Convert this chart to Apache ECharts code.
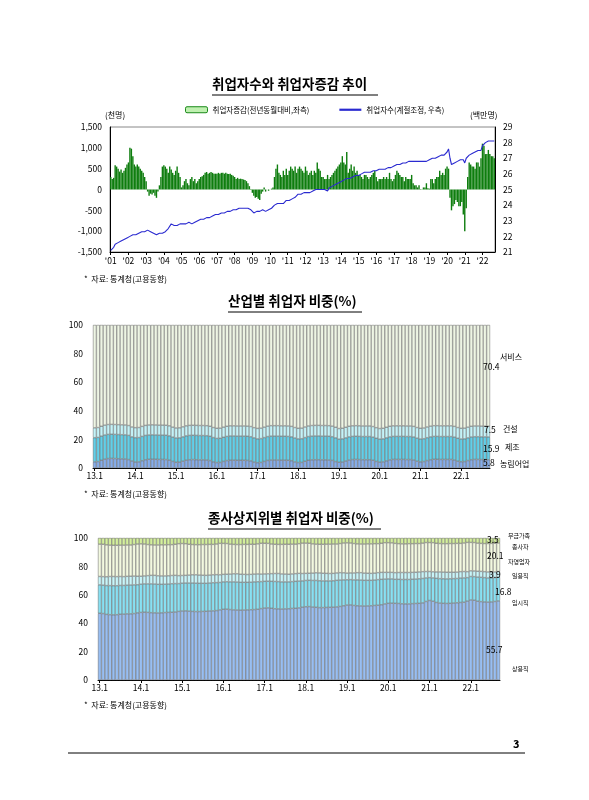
<!DOCTYPE html>
<html><head><meta charset="utf-8">
<script src="https://cdn.jsdelivr.net/npm/echarts@6/dist/echarts.min.js"></script>
<style>html,body{margin:0;padding:0;background:#fff}#c{width:589px;height:800px}</style>
</head><body><div id="c"></div>
<script>
// ---- Chart 1: 2001.1 - 2022.9 monthly ----
const chg = [
 300,250,280,580,550,500,430,480,400,450,520,600,
 650,1000,980,800,600,550,600,550,500,450,400,300,
 200,-50,-150,-100,-120,-80,-150,-200,-50,100,300,550,
 580,550,500,400,550,480,400,350,450,550,400,300,
 50,100,200,250,150,100,250,300,200,250,150,200,
 250,300,320,350,400,420,380,400,420,400,380,380,
 380,400,380,400,400,380,400,380,370,380,350,330,
 300,250,280,250,260,250,240,230,200,150,80,10,
 -80,-150,-200,-180,-220,-250,-100,-50,50,-50,0,-30,
 0,20,50,300,500,600,400,350,300,450,350,500,
 350,450,550,500,450,550,400,500,550,500,450,400,
 550,450,350,400,450,350,450,400,650,500,450,300,
 300,250,250,350,250,300,350,400,450,500,550,600,
 650,800,650,600,900,400,500,600,450,550,400,450,
 350,350,300,250,350,350,300,250,300,350,400,450,
 300,200,250,250,250,300,250,300,250,400,250,200,
 250,350,450,400,350,300,300,200,300,250,250,250,
 350,150,100,100,50,100,10,5,50,50,150,30,
 20,250,250,150,250,300,300,450,350,400,350,500,
 550,500,-200,-500,-400,-350,-250,-300,-400,-400,-300,-600,
 -1000,-450,300,650,600,550,550,500,650,650,550,750,
 1100,1050,850,850,950,850,800,800,750];
const emp = [
 21.1,21.1,21.3,21.5,21.6,21.6,21.7,21.7,21.8,21.8,21.9,21.9,
 21.9,22.0,22.0,22.1,22.1,22.1,22.2,22.2,22.2,22.3,22.3,22.3,
 22.3,22.4,22.3,22.3,22.2,22.2,22.1,22.1,22.1,22.2,22.2,22.2,
 22.3,22.3,22.4,22.5,22.6,22.8,22.7,22.7,22.6,22.7,22.8,22.8,
 22.7,22.8,22.8,22.8,22.9,22.9,22.8,22.8,22.9,22.9,23.0,23.0,
 23.0,23.1,23.1,23.1,23.1,23.2,23.2,23.2,23.3,23.3,23.3,23.4,
 23.4,23.4,23.5,23.5,23.5,23.5,23.5,23.6,23.6,23.6,23.7,23.7,
 23.7,23.7,23.8,23.8,23.8,23.8,23.8,23.8,23.8,23.8,23.7,23.7,
 23.6,23.5,23.6,23.6,23.6,23.6,23.7,23.7,23.7,23.6,23.6,23.7,
 23.7,23.8,23.9,24.0,24.1,24.1,24.1,24.1,24.2,24.1,24.2,24.3,
 24.3,24.3,24.4,24.4,24.5,24.5,24.6,24.7,24.6,24.7,24.6,24.8,
 24.7,24.8,24.9,24.8,24.9,24.9,25.0,25.0,25.0,25.0,25.1,25.0,
 25.0,25.0,25.0,24.9,25.1,25.1,25.2,25.2,25.3,25.3,25.4,25.4,
 25.5,25.5,25.6,25.6,25.7,25.7,25.7,25.8,25.8,25.9,25.9,25.9,
 25.9,26.0,26.0,26.0,26.1,26.0,26.1,26.1,26.1,26.2,26.2,26.2,
 26.2,26.2,26.3,26.3,26.3,26.3,26.3,26.4,26.4,26.4,26.4,26.5,
 26.5,26.5,26.6,26.6,26.6,26.7,26.7,26.7,26.7,26.8,26.8,26.8,
 26.8,26.8,26.8,26.8,26.8,26.9,26.8,26.8,26.8,26.8,26.8,26.9,
 26.9,27.0,27.0,27.0,27.0,27.1,27.1,27.1,27.2,27.2,27.2,27.3,
 27.4,27.6,27.0,26.6,26.7,26.7,26.8,26.8,26.8,26.9,27.0,26.9,
 26.7,27.0,27.1,27.2,27.2,27.3,27.3,27.4,27.4,27.5,27.5,27.5,
 27.8,27.9,28.0,28.1,28.1,28.2,28.1,28.1,28.1];
const years1 = ["'01","'02","'03","'04","'05","'06","'07","'08","'09","'10","'11","'12","'13","'14","'15","'16","'17","'18","'19","'20","'21","'22"];

// ---- Chart 2: 2013.1 - 2022.9 (industry share, %) ----
const agri = [
 4.3,4.5,5.4,6.2,6.6,6.7,6.6,6.5,6.4,6.3,5.9,4.9,
 4.2,4.3,5.1,5.8,6.1,6.2,6.1,6.0,6.0,5.9,5.5,4.6,
 4.0,4.1,4.8,5.5,5.8,5.9,5.8,5.7,5.7,5.6,5.2,4.3,
 3.8,3.9,4.6,5.2,5.5,5.5,5.4,5.4,5.4,5.3,5.0,4.2,
 3.7,3.9,4.6,5.3,5.6,5.6,5.6,5.5,5.5,5.4,5.1,4.3,
 3.8,3.9,4.7,5.4,5.7,5.8,5.8,5.7,5.7,5.6,5.3,4.5,
 4.0,4.2,4.9,5.6,5.9,6.0,5.9,5.8,5.8,5.8,5.4,4.6,
 4.1,4.3,5.0,5.7,6.0,6.0,6.0,6.0,5.9,5.9,5.6,4.8,
 4.3,4.5,5.2,5.8,6.1,6.1,6.0,6.0,6.0,6.0,5.6,4.8,
 4.4,4.5,5.2,5.8,6.0,6.0,5.9,5.9,5.8];
const manu = [
 16.9,16.9,16.9,16.9,16.9,16.9,16.9,16.9,16.9,16.9,16.9,16.9,
 17.0,17.0,17.0,17.0,17.0,17.0,17.0,17.0,17.0,17.0,17.0,17.0,
 17.0,17.0,17.0,17.0,17.0,17.0,17.0,17.0,17.0,17.0,17.0,17.0,
 16.9,16.9,16.9,16.9,16.9,16.9,16.9,16.9,16.9,16.9,16.9,16.9,
 16.7,16.7,16.7,16.7,16.7,16.7,16.7,16.7,16.7,16.7,16.7,16.7,
 16.6,16.6,16.6,16.6,16.6,16.6,16.6,16.6,16.6,16.6,16.6,16.6,
 16.2,16.2,16.2,16.2,16.2,16.2,16.2,16.2,16.2,16.2,16.2,16.2,
 16.1,16.1,16.1,16.1,16.1,16.1,16.1,16.1,16.1,16.1,16.1,16.1,
 16.0,16.0,16.0,16.0,16.0,16.0,16.0,16.0,16.0,16.0,16.0,16.0,
 15.9,15.9,15.9,15.9,15.9,15.9,15.9,15.9,15.9];
const cons = [
 6.9,6.9,6.9,6.9,6.9,6.9,6.9,6.9,6.9,6.9,6.9,6.9,
 7.0,7.0,7.0,7.0,7.0,7.0,7.0,7.0,7.0,7.0,7.0,7.0,
 7.0,7.0,7.0,7.0,7.0,7.0,7.0,7.0,7.0,7.0,7.0,7.0,
 7.1,7.1,7.1,7.1,7.1,7.1,7.1,7.1,7.1,7.1,7.1,7.1,
 7.3,7.3,7.3,7.3,7.3,7.3,7.3,7.3,7.3,7.3,7.3,7.3,
 7.4,7.4,7.4,7.4,7.4,7.4,7.4,7.4,7.4,7.4,7.4,7.4,
 7.4,7.4,7.4,7.4,7.4,7.4,7.4,7.4,7.4,7.4,7.4,7.4,
 7.4,7.4,7.4,7.4,7.4,7.4,7.4,7.4,7.4,7.4,7.4,7.4,
 7.5,7.5,7.5,7.5,7.5,7.5,7.5,7.5,7.5,7.5,7.5,7.5,
 7.5,7.5,7.5,7.5,7.5,7.5,7.5,7.5,7.5];
const serv = [
 71.9,71.7,70.8,70.0,69.6,69.5,69.6,69.7,69.8,69.9,70.3,71.3,
 71.8,71.7,70.9,70.2,69.9,69.8,69.9,70.0,70.0,70.1,70.5,71.4,
 72.0,71.9,71.2,70.5,70.2,70.1,70.2,70.3,70.3,70.4,70.8,71.7,
 72.2,72.1,71.4,70.8,70.5,70.5,70.6,70.6,70.6,70.7,71.0,71.8,
 72.3,72.1,71.4,70.7,70.4,70.4,70.4,70.5,70.5,70.6,70.9,71.7,
 72.2,72.1,71.3,70.6,70.3,70.2,70.2,70.3,70.3,70.4,70.7,71.5,
 72.4,72.2,71.5,70.8,70.5,70.4,70.5,70.6,70.6,70.6,71.0,71.8,
 72.4,72.2,71.5,70.8,70.5,70.5,70.5,70.5,70.6,70.6,70.9,71.7,
 72.2,72.0,71.3,70.7,70.4,70.4,70.5,70.5,70.5,70.5,70.9,71.7,
 72.2,72.1,71.4,70.8,70.6,70.6,70.7,70.7,70.8];

// ---- Chart 3: 2013.1 - 2022.9 (status share, %) ----
const regular = [
 47.0,46.8,46.2,46.0,45.9,46.0,46.3,46.4,46.6,46.6,46.8,47.3,
 47.6,47.8,47.6,47.4,47.3,47.2,47.3,47.5,47.6,47.7,47.9,48.3,
 48.6,48.7,48.5,48.3,48.2,48.2,48.3,48.4,48.6,48.7,48.9,49.4,
 49.8,49.9,49.6,49.4,49.3,49.2,49.3,49.4,49.5,49.6,49.8,50.3,
 50.7,50.8,50.5,50.2,50.1,50.0,50.1,50.2,50.4,50.5,50.8,51.3,
 51.6,51.7,51.4,51.2,51.0,51.0,51.1,51.2,51.3,51.5,51.8,52.3,
 52.8,52.9,52.5,52.3,52.2,52.1,52.2,52.3,52.5,52.7,53.0,53.6,
 54.0,54.1,54.0,53.9,53.7,53.6,53.6,53.8,53.9,54.0,54.3,55.3,
 56.0,55.5,54.6,54.2,54.0,53.9,54.0,54.2,54.4,54.6,54.8,55.6,
 56.4,56.2,55.5,55.2,55.0,54.9,55.0,55.3,55.7];
const temp = [
 20.0,20.0,20.3,20.5,20.5,20.4,20.3,20.2,20.2,20.3,20.2,19.8,
 19.9,19.9,20.1,20.3,20.3,20.2,20.1,20.0,20.0,20.1,20.0,19.6,
 19.6,19.6,19.8,20.0,20.0,19.9,19.8,19.7,19.7,19.8,19.7,19.3,
 19.3,19.3,19.5,19.7,19.7,19.6,19.5,19.4,19.4,19.5,19.4,19.0,
 18.8,18.8,19.0,19.2,19.2,19.1,19.0,18.9,18.9,19.0,18.9,18.5,
 18.5,18.5,18.7,18.9,18.9,18.8,18.7,18.6,18.6,18.7,18.6,18.2,
 17.8,17.8,18.0,18.2,18.2,18.1,18.0,17.9,17.9,18.0,17.9,17.5,
 17.2,17.1,16.9,17.0,17.1,17.2,17.2,17.2,17.2,17.3,17.2,16.6,
 16.1,16.4,17.0,17.2,17.3,17.3,17.3,17.2,17.1,17.2,17.1,16.5,
 16.5,16.6,17.0,17.1,17.1,17.0,16.9,16.8,16.8];
const daily = [
 5.9,6.0,6.2,6.4,6.5,6.4,6.3,6.2,6.2,6.2,6.2,6.0,
 5.6,5.6,5.8,6.0,6.1,6.0,5.9,5.8,5.8,5.8,5.8,5.6,
 5.4,5.4,5.6,5.8,5.9,5.8,5.7,5.6,5.6,5.6,5.6,5.4,
 5.3,5.3,5.5,5.7,5.8,5.7,5.6,5.5,5.5,5.5,5.5,5.3,
 5.2,5.2,5.4,5.6,5.7,5.6,5.5,5.4,5.4,5.4,5.4,5.2,
 5.0,5.0,5.2,5.4,5.5,5.4,5.3,5.2,5.2,5.2,5.2,5.0,
 4.7,4.7,4.9,5.1,5.2,5.1,5.0,4.9,4.9,4.9,4.9,4.7,
 4.6,4.6,4.7,4.8,4.9,4.9,4.9,4.8,4.8,4.8,4.8,4.5,
 4.3,4.3,4.5,4.7,4.7,4.7,4.6,4.5,4.5,4.5,4.5,4.2,
 4.0,4.0,4.1,4.2,4.2,4.2,4.1,4.0,3.9];
const selfEmp = [
 22.8,22.8,22.5,22.1,22.0,22.1,22.1,22.2,22.1,22.0,22.2,22.7,
 22.8,22.5,21.9,21.5,21.4,21.7,21.9,21.9,21.9,21.7,21.9,22.5,
 22.5,22.3,21.7,21.3,21.2,21.4,21.6,21.7,21.6,21.4,21.6,22.1,
 21.8,21.6,21.1,20.7,20.6,20.9,21.1,21.2,21.2,21.0,21.2,21.7,
 21.6,21.4,20.9,20.6,20.5,20.8,21.0,21.1,21.0,20.8,20.9,21.4,
 21.3,21.1,20.6,20.2,20.2,20.4,20.6,20.7,20.7,20.4,20.5,21.0,
 21.3,21.1,20.7,20.3,20.2,20.5,20.7,20.8,20.7,20.4,20.5,20.9,
 20.9,20.8,20.6,20.3,20.2,20.2,20.3,20.2,20.2,20.0,20.1,20.4,
 20.4,20.5,20.2,20.0,20.0,20.1,20.2,20.2,20.2,19.9,20.1,20.6,
 20.0,20.0,19.8,19.7,19.8,20.0,20.2,20.2,20.1];
const unpaid = [
 4.3,4.4,4.8,5.0,5.1,5.1,5.0,5.0,4.9,4.9,4.6,4.2,
 4.1,4.2,4.6,4.8,4.9,4.9,4.8,4.8,4.7,4.7,4.4,4.0,
 3.9,4.0,4.4,4.6,4.7,4.7,4.6,4.6,4.5,4.5,4.2,3.8,
 3.8,3.9,4.3,4.5,4.6,4.6,4.5,4.5,4.4,4.4,4.1,3.7,
 3.7,3.8,4.2,4.4,4.5,4.5,4.4,4.4,4.3,4.3,4.0,3.6,
 3.6,3.7,4.1,4.3,4.4,4.4,4.3,4.3,4.2,4.2,3.9,3.5,
 3.4,3.5,3.9,4.1,4.2,4.2,4.1,4.1,4.0,4.0,3.7,3.3,
 3.3,3.4,3.8,4.0,4.1,4.1,4.0,4.0,3.9,3.9,3.6,3.2,
 3.2,3.3,3.7,3.9,4.0,4.0,3.9,3.9,3.8,3.8,3.5,3.1,
 3.1,3.2,3.6,3.8,3.9,3.9,3.8,3.7,3.5];
const years2 = ["13.1","14.1","15.1","16.1","17.1","18.1","19.1","20.1","21.1","22.1"];

// ---- build categories ----
const cat1 = chg.map((_, i) => (i % 12 === 0) ? years1[i / 12] : '');
const cat2 = agri.map((_, i) => (i % 12 === 0) ? years2[i / 12] : '');
const FONT = '"Noto Sans CJK KR", "Noto Sans", sans-serif';
const lbl = {fontFamily: FONT, fontSize: 8.5, color: '#000'};
const showYear = (i, v) => v !== '';

function catAxis(gi, data, labelMargin) {
  return {type: 'category', gridIndex: gi, data: data, boundaryGap: true,
    axisLine: {onZero: false, lineStyle: {color: '#000', width: 1}},
    axisTick: {show: true, interval: showYear, length: 3, alignWithLabel: true, lineStyle: {color: '#000'}},
    axisLabel: Object.assign({interval: showYear, margin: labelMargin || 4}, lbl)};
}
function stackBar(name, data, xi, yi, color, stack) {
  return {name, type: 'bar', xAxisIndex: xi, yAxisIndex: yi, stack, data,
    barCategoryGap: '0%', itemStyle: {color, borderColor: '#5a5a5a', borderWidth: 0.45}};
}

const chart = echarts.init(document.getElementById('c'), null, {renderer: 'canvas'});
const txt = (x, y, s, size, extra) => ({type: 'text', left: x, top: y, z: 100,
  style: Object.assign({text: s, fontFamily: FONT, fontSize: size || 8.5, fill: '#000'}, extra || {})});
const hline = (x1, x2, y, w) => ({type: 'line', z: 100, shape: {x1, y1: y, x2, y2: y}, style: {stroke: '#000', lineWidth: w || 1}});

chart.setOption({
  animation: false,
  backgroundColor: '#fff',
  legend: {top: 101, left: 180, itemWidth: 22, itemHeight: 6, itemGap: 30,
    textStyle: {fontFamily: FONT, fontSize: 7.5, color: '#000'},
    data: [{name: '취업자증감(전년동월대비,좌측)', itemStyle: {color: '#bff0b0', borderColor: '#1a8a1a', borderWidth: 1}},
           {name: '취업자수(계절조정, 우측)', icon: 'path://M0,0 L10,0 L10,1 L0,1 Z'}]},
  grid: [
    {left: 110, right: 94, top: 127, height: 125, show: true, borderColor: '#888', borderWidth: 1},
    {left: 93, right: 99, top: 325, height: 143},
    {left: 98, right: 89, top: 538, height: 142}
  ],
  xAxis: [catAxis(0, cat1, 5), catAxis(1, cat2), catAxis(2, cat2)],
  yAxis: [
    {type: 'value', gridIndex: 0, min: -1500, max: 1500, interval: 500, splitLine: {show: false},
      axisLine: {show: true, lineStyle: {color: '#000'}}, axisTick: {show: false},
      axisLabel: Object.assign({formatter: v => v.toLocaleString('en-US'), margin: 8}, lbl)},
    {type: 'value', gridIndex: 0, position: 'right', min: 21, max: 29, interval: 1, splitLine: {show: false},
      axisLine: {show: true, lineStyle: {color: '#000'}}, axisTick: {show: false},
      axisLabel: Object.assign({margin: 8}, lbl)},
    {type: 'value', gridIndex: 1, min: 0, max: 100, interval: 20, splitLine: {show: false},
      axisLine: {show: false}, axisTick: {show: false}, axisLabel: Object.assign({margin: 10}, lbl)},
    {type: 'value', gridIndex: 2, min: 0, max: 100, interval: 20, splitLine: {show: false},
      axisLine: {show: false}, axisTick: {show: false}, axisLabel: Object.assign({margin: 10}, lbl)}
  ],
  series: [
    {name: '취업자증감(전년동월대비,좌측)', type: 'bar', xAxisIndex: 0, yAxisIndex: 0, data: chg,
      barCategoryGap: '5%', itemStyle: {color: '#0e7d0e'}},
    {name: '취업자수(계절조정, 우측)', type: 'line', xAxisIndex: 0, yAxisIndex: 1, data: emp,
      symbol: 'none', lineStyle: {color: '#2a2ad0', width: 1.1}, itemStyle: {color: '#2a2ad0'}},
    stackBar('농림어업', agri, 1, 2, '#86adea', 's2'),
    stackBar('제조', manu, 1, 2, '#62cfe8', 's2'),
    stackBar('건설', cons, 1, 2, '#c4f3f8', 's2'),
    stackBar('서비스', serv, 1, 2, '#eef5e4', 's2'),
    stackBar('상용직', regular, 2, 3, '#98bef2', 's3'),
    stackBar('임시직', temp, 2, 3, '#88e0f2', 's3'),
    stackBar('일용직', daily, 2, 3, '#c8f5f9', 's3'),
    stackBar('자영업자', selfEmp, 2, 3, '#f3f9e0', 's3'),
    stackBar('무급가족종사자', unpaid, 2, 3, '#d4f09c', 's3')
  ],
  graphic: [
    txt(212, 77, '취업자수와 취업자증감 추이', 13.5, {fontWeight: 'bold'}),
    hline(212, 378, 95, 1),
    txt(105, 111, '(천명)', 8),
    txt(470, 111, '(백만명)', 8),
    txt(84, 275, '*  자료: 통계청(고용동향)', 8),
    txt(228, 294, '산업별 취업자 비중(%)', 13.5, {fontWeight: 'bold'}),
    hline(228, 362, 312, 1),
    txt(500, 353, '서비스', 8),
    txt(483, 363, '70.4', 8.5),
    txt(484, 426, '7.5', 8.5), txt(503, 425, '건설', 8),
    txt(483, 445, '15.9', 8.5), txt(505, 443, '제조', 8),
    txt(483, 459, '5.8', 8.5), txt(500, 460, '농림어업', 8),
    txt(84, 490, '*  자료: 통계청(고용동향)', 8),
    txt(208, 511, '종사상지위별 취업자 비중(%)', 13.5, {fontWeight: 'bold'}),
    hline(208, 381, 529, 1),
    txt(487, 536, '3.5', 8.5),
    txt(508, 533, '무급가족', 6), txt(512, 544, '종사자', 6),
    txt(487, 552, '20.1', 8.5), txt(508, 559, '자영업자', 6),
    txt(489, 571, '3.9', 8.5), txt(512, 573, '일용직', 6),
    txt(495, 588, '16.8', 8.5), txt(512, 600, '임시직', 6),
    txt(486, 646, '55.7', 8.5), txt(512, 666, '상용직', 6),
    txt(84, 701, '*  자료: 통계청(고용동향)', 8),
    txt(513, 738, '3', 11, {fontWeight: 'bold'}),
    hline(68, 525, 753, 1)
  ]
});
</script></body></html>
